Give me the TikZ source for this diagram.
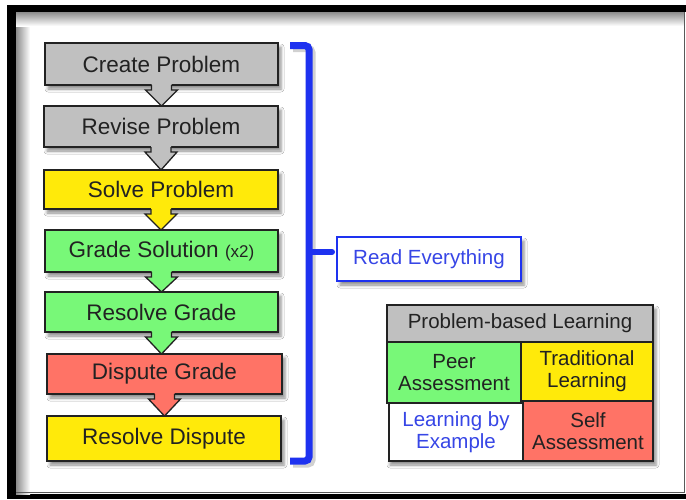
\documentclass[tikz,border=0pt]{standalone}
\usepackage{fontspec}
\setmainfont{Liberation Sans}
\usetikzlibrary{calc,shadows.blur}
\definecolor{pgray}{HTML}{C0C0C0}
\definecolor{pyellow}{HTML}{FFEA0A}
\definecolor{pgreen}{HTML}{78F878}
\definecolor{pred}{HTML}{FF7366}
\definecolor{pblue}{RGB}{30,50,240}
\definecolor{tblue}{RGB}{55,70,230}
\definecolor{tdark}{HTML}{222222}
\tikzset{
  myshadow/.style={blur shadow={shadow xshift=3pt, shadow yshift=-4pt, shadow blur radius=3pt, shadow opacity=45}},
  stepbox/.style={draw=tdark, line width=1.3pt, inner sep=0pt, outer sep=0pt, anchor=north west,
    font=\fontsize{22.5}{25}\selectfont, text=tdark, myshadow},
  cellbox/.style={draw=tdark, line width=1.3pt, inner sep=0pt, outer sep=0pt, anchor=north west,
    align=center, font=\fontsize{20.5}{22}\selectfont, text=tdark},
  readbox/.style={draw=pblue, line width=2.6pt, fill=white, inner sep=0pt, outer sep=0pt, anchor=north west,
    font=\fontsize{20.5}{24}\selectfont, text=tblue, myshadow},
  arrowline/.style={draw=tdark, line width=1.3pt, line join=miter},
  bracestyle/.style={draw=pblue, line width=7pt, rounded corners=4pt},
}
\newcommand\flowarrow[3]{%
  \fill[#1] ($(#2.south)+(-10,-1.2)$) -- ($(#2.south)+(-10,5)$) -- ($(#2.south)+(-16,5)$)
    -- (#2.south |- #3.north) -- ($(#2.south)+(16,5)$) -- ($(#2.south)+(10,5)$)
    -- ($(#2.south)+(10,-1.2)$) -- cycle;
  \draw[arrowline] ($(#2.south)+(-10,0)$) -- ($(#2.south)+(-10,5)$) -- ($(#2.south)+(-16,5)$)
    -- (#2.south |- #3.north) -- ($(#2.south)+(16,5)$) -- ($(#2.south)+(10,5)$)
    -- ($(#2.south)+(10,0)$);
}
\begin{document}
\begin{tikzpicture}[x=1pt,y=-1pt]
\useasboundingbox (0,0) rectangle (686,499);
% frame
\fill[black] (7,5) rectangle (686,499);
\fill[white] (16,12) rectangle (686,494);
\shade[left color=black!45, right color=white] (16,12) rectangle (30,494);
\shade[top color=black!45, bottom color=white] (16,12) rectangle (684,26);
\draw[black!65, line width=1pt] (684.5,12) -- (684.5,492.5) -- (16,492.5);

% flow boxes
\node[stepbox, fill=pgray, minimum width=233pt, minimum height=42pt] (create) at (45,43) {Create Problem};
\node[stepbox, fill=pgray, minimum width=234pt, minimum height=41pt] (revise) at (44,106) {Revise Problem};
\node[stepbox, fill=pyellow, minimum width=234pt, minimum height=39pt] (solve) at (44,170) {Solve Problem};
\node[stepbox, fill=pgreen, minimum width=233pt, minimum height=42pt] (grade) at (45,230) {Grade Solution {\fontsize{17}{18}\selectfont(x2)}};
\node[stepbox, fill=pgreen, minimum width=233pt, minimum height=40pt] (resolve) at (45,292) {Resolve Grade};
\node[stepbox, fill=pred, minimum width=235pt, minimum height=40pt] (dispute) at (47,354) {Dispute Grade};
\node[stepbox, fill=pyellow, minimum width=234pt, minimum height=45pt] (rdispute) at (47,416) {Resolve Dispute};

% block arrows
\flowarrow{pgray}{create}{revise}
\flowarrow{pgray}{revise}{solve}
\flowarrow{pyellow}{solve}{grade}
\flowarrow{pgreen}{grade}{resolve}
\flowarrow{pgreen}{resolve}{dispute}
\flowarrow{pred}{dispute}{rdispute}

% read everything
\node[readbox, minimum width=184pt, minimum height=44pt] (read) at (337,237) {Read Everything};

% brace
\coordinate (btop) at (290,45.5);
\coordinate (bbot) at (290,461);
\coordinate (bmid) at (309,252);
\draw[black, opacity=0.18, line width=7pt, rounded corners=4pt] ($(btop)+(3,3)$) -- ++(19,0) -- ($(bbot)+(22,3)$) -- ($(bbot)+(3,3)$);
\draw[bracestyle] (btop) -- ++(19,0) -- ($(bbot)+(19,0)$) -- (bbot);
\draw[draw=pblue, line width=6pt, line cap=round] (bmid) -- ($(read.west)+(-5,-7)$);

% table
\path[fill=white, myshadow] (387,305) rectangle (653,461);
\node[cellbox, fill=pgray, minimum width=266pt, minimum height=37pt] (pbl) at (387,305) {Problem-based Learning};
\node[cellbox, fill=pgreen, minimum width=134pt, minimum height=61pt] (peer) at (387,342) {Peer\\Assessment};
\node[cellbox, fill=pyellow, minimum width=132pt, minimum height=59pt] (trad) at (521,342) {Traditional\\Learning};
\node[cellbox, fill=white, text=tblue, minimum width=134pt, minimum height=58pt] (lbe) at (389,403) {Learning by\\Example};
\node[cellbox, fill=pred, minimum width=130pt, minimum height=60pt] (self) at (523,401) {Self\\Assessment};
\end{tikzpicture}
\end{document}
